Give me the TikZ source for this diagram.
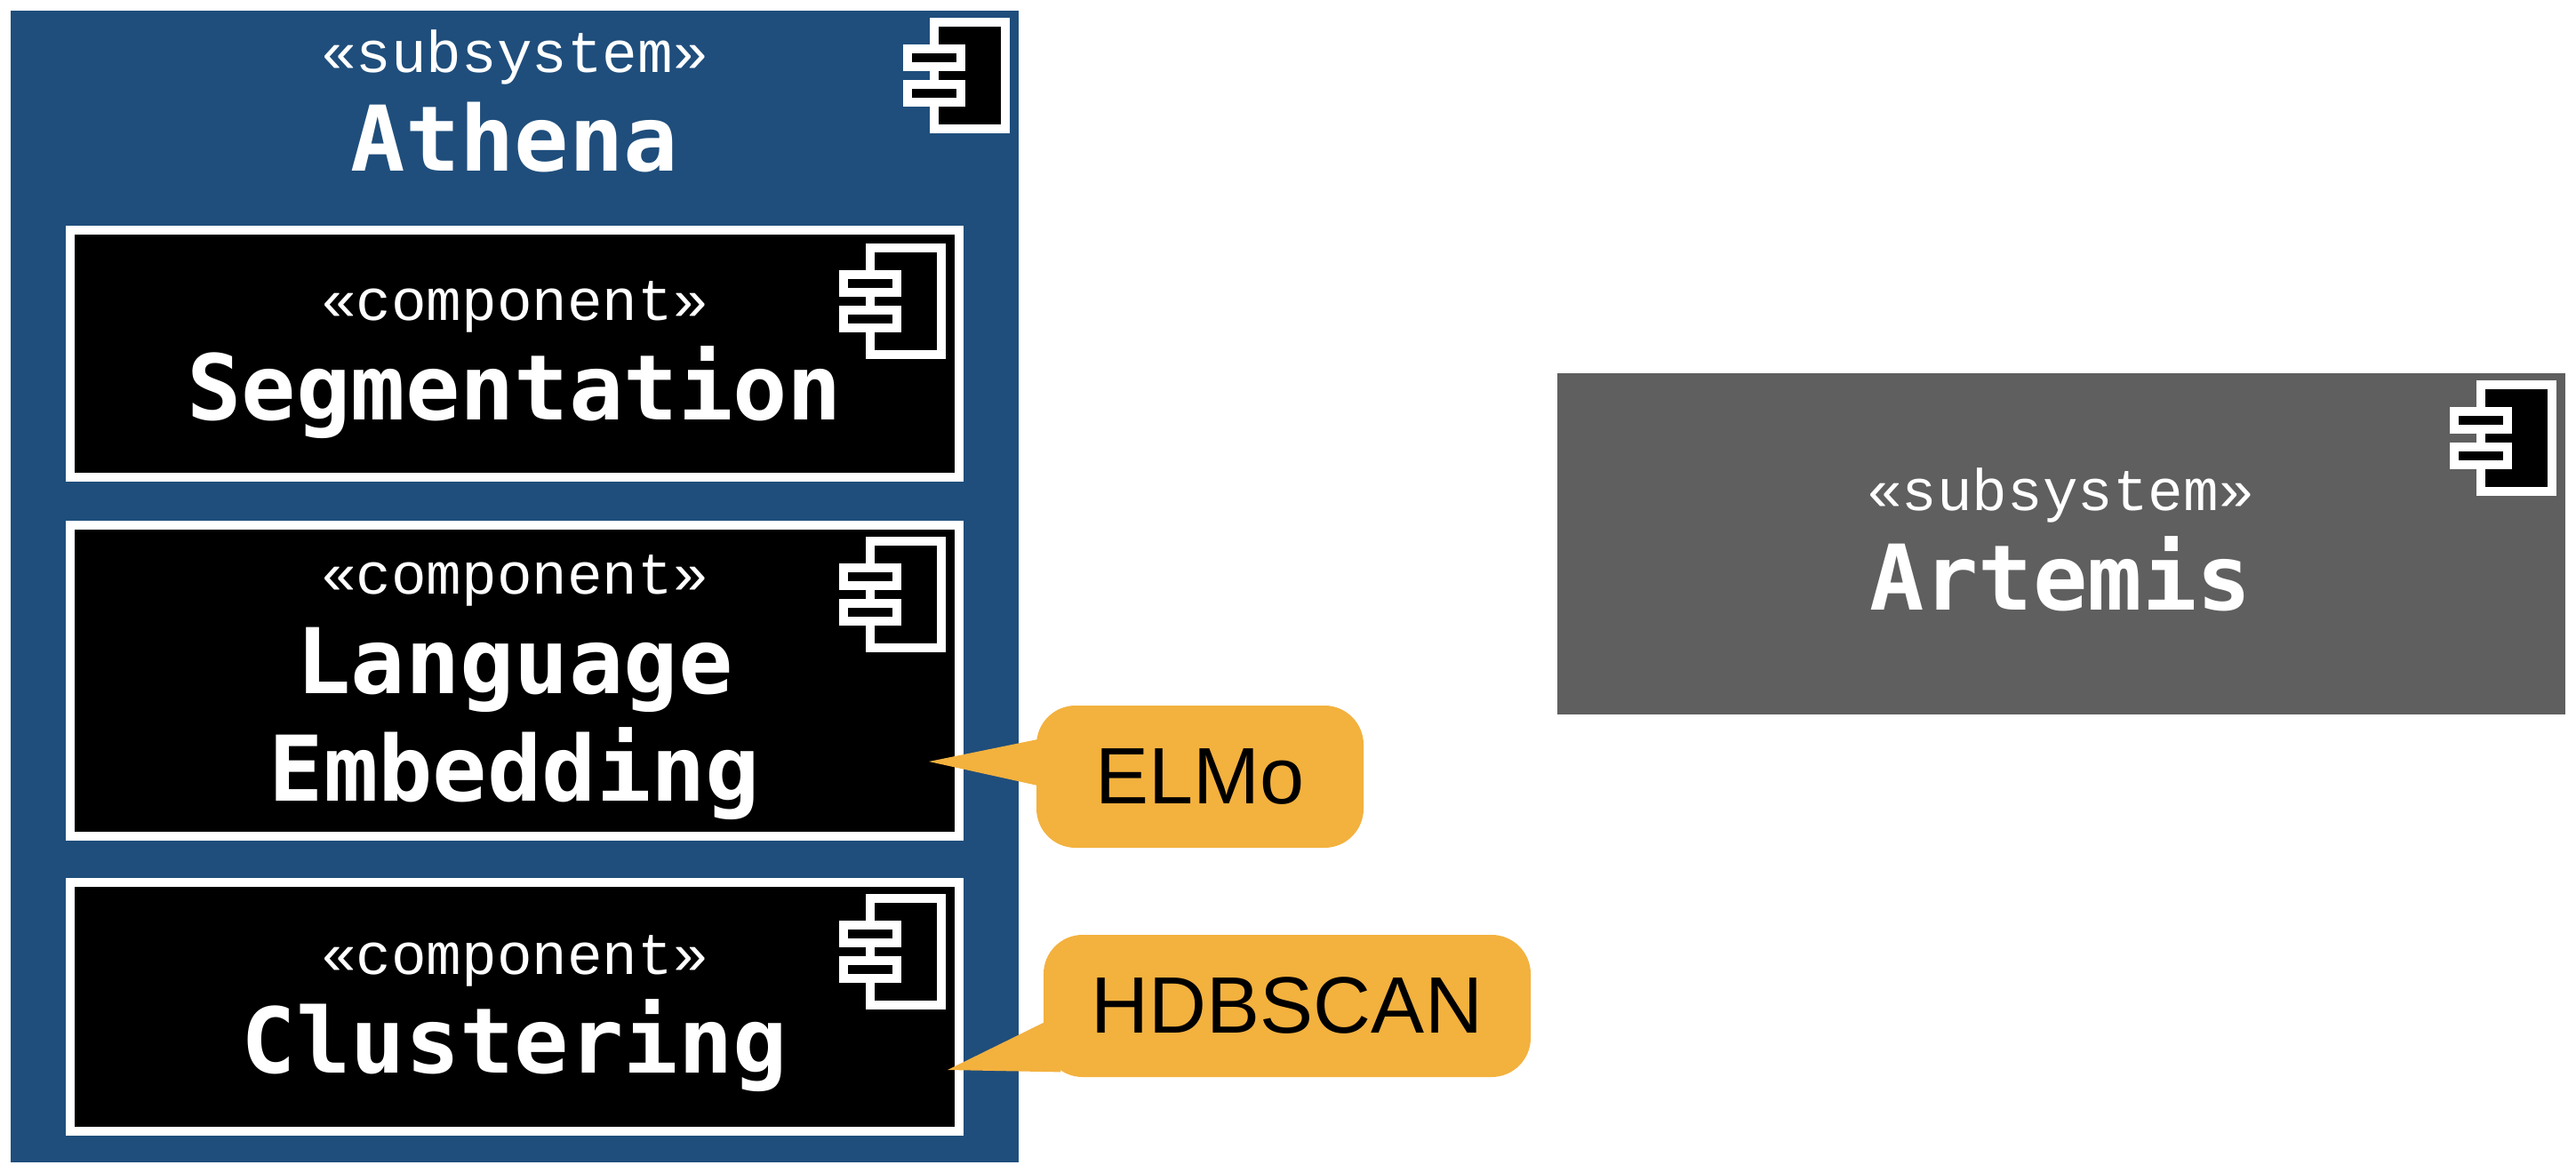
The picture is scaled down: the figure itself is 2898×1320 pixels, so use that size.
\documentclass[tikz,border=0pt]{standalone}
\usepackage{fontspec}
\setmainfont{Liberation Sans}
\setmonofont{DejaVu Sans Mono}
\newfontfamily\thinmono{Liberation Mono}
\usetikzlibrary{calc}
\definecolor{athenablue}{HTML}{1F4E7C}
\definecolor{artemisgrey}{HTML}{5F5F5F}
\definecolor{noteorange}{HTML}{F3B13E}
\tikzset{
  subsys/.style={inner sep=0, minimum width=567pt},
  comp/.style={draw=white, fill=black, line width=5pt, inner sep=0, minimum width=500pt},
  stereo/.style={anchor=base, white, font=\thinmono\fontsize{33}{33}\selectfont},
  title/.style={anchor=base, white, font=\ttfamily\bfseries\fontsize{51}{51}\selectfont},
  note/.style={fill=noteorange, rounded corners=22pt, inner sep=0, minimum height=80pt, font=\fontsize{45}{45}\selectfont},
  iconpart/.style={draw=white, fill=black, line width=5pt}
}

\begin{document}
\begin{tikzpicture}[x=0.5pt, y=-0.5pt]
      \useasboundingbox (0,0) rectangle (2898,1320);

      % the two subsystems
      \node[subsys, fill=athenablue, minimum height=648pt] (athena) at (579,660) {};
      \node[subsys, fill=artemisgrey, minimum height=192pt] (artemis) at (2319,612) {};

      % components inside Athena
      \node[comp, minimum height=139pt] (segmentation) at (579,398) {};
      \node[comp, minimum height=175pt] (language) at (579,766) {};
      \node[comp, minimum height=140pt] (clustering) at (579,1133) {};

      % component icons, given by the top left corner of the big box
      \foreach \ix/\iy in {1046/20, 974/274, 974/604, 974/1006, 2786/428} {
        \draw[iconpart] (\ix+5,\iy+5) rectangle (\ix+85,\iy+125);
        \draw[iconpart] (\ix-25,\iy+35) rectangle (\ix+35,\iy+55);
        \draw[iconpart] (\ix-25,\iy+75) rectangle (\ix+35,\iy+95);
      }

      \node[stereo] (athenaStereo) at (579,81.5) {«subsystem»};
      \node[title] (athenaTitle) at (579,193) {Athena};
      \node[stereo] (segmentationStereo) at (579,361) {«component»};
      \node[title] (segmentationTitle) at (579,473) {Segmentation};
      \node[stereo] (languageStereo) at (579,669) {«component»};
      \node[title] (languageTitle) at (579,781) {Language};
      \node[title] (embeddingTitle) at (579,901) {Embedding};
      \node[stereo] (clusteringStereo) at (579,1096) {«component»};
      \node[title] (clusteringTitle) at (579,1207) {Clustering};
      \node[stereo] (artemisStereo) at (2318,575) {«subsystem»};
      \node[title] (artemisTitle) at (2318,687) {Artemis};

      % notes with their pointers
      \node[note, minimum width=184pt] (elmo) at (1350,874) {ELMo};
      \node[note, minimum width=274pt] (hdbscan) at (1448,1132) {HDBSCAN};
      \coordinate (elmoTip) at (1045,857);
      \coordinate (hdbscanTip) at (1066,1204);
      \fill[noteorange] ($(elmo.west)+(2,-42)$) -- (elmoTip) -- ($(elmo.west)+(2,10)$) -- cycle;
      \fill[noteorange] ($(hdbscan.west)+(0,19)$) -- (hdbscanTip) -- ($(hdbscan.south west)+(20,-6)$) -- cycle;
\end{tikzpicture}
\end{document}
